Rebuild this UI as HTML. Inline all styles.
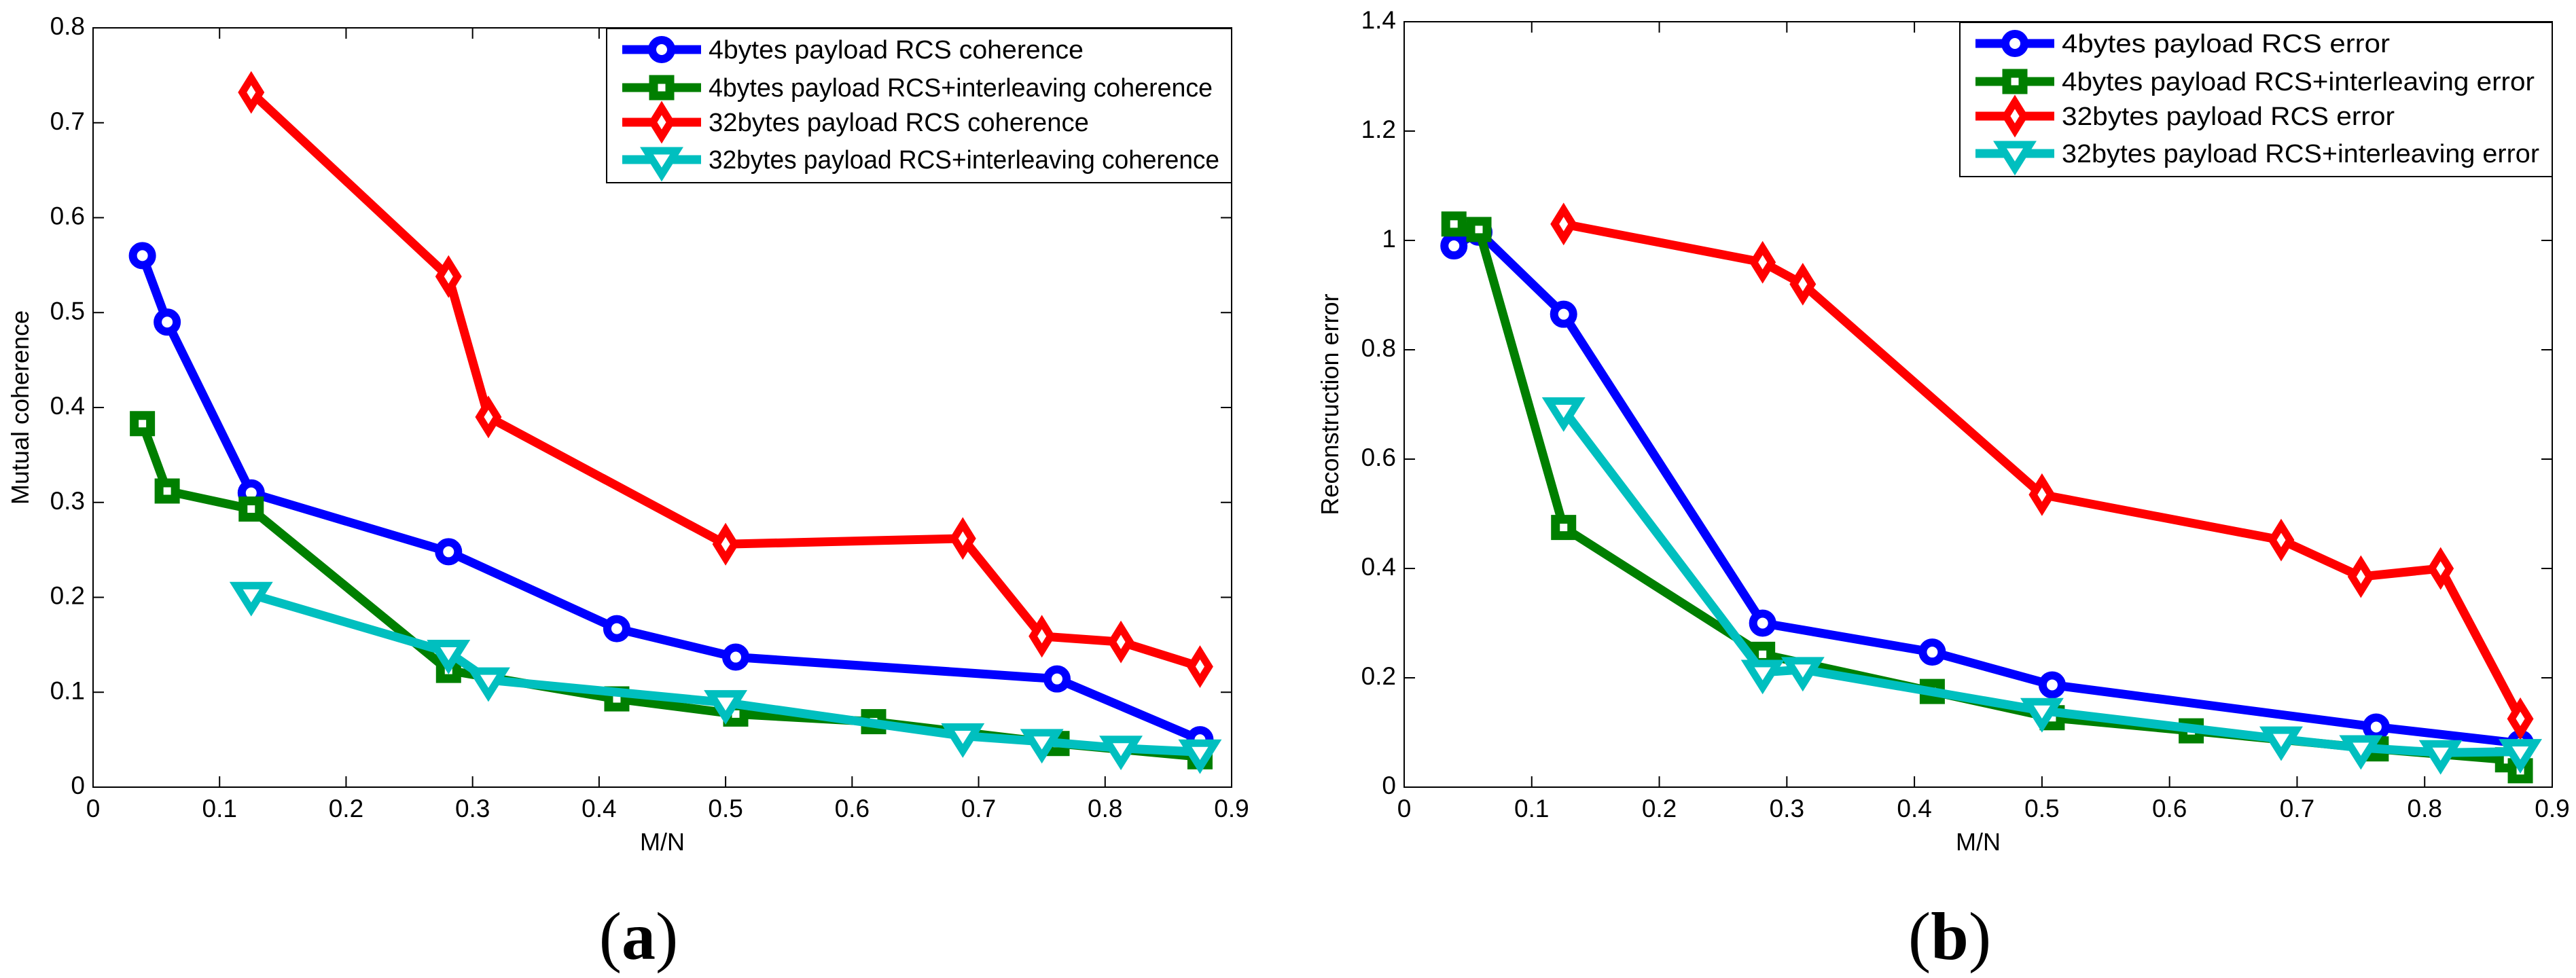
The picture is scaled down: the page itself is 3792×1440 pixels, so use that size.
<!DOCTYPE html>
<html><head><meta charset="utf-8"><style>
html,body{margin:0;padding:0;background:#fff;}
svg{display:block;}
text{font-family:"Liberation Sans",Arial,sans-serif;}
</style></head><body>
<svg id="fig" width="3792" height="1440" xmlns="http://www.w3.org/2000/svg"></svg>
<script>
// ---- Chart (a) data ----
const aBlueX = [0.039, 0.0586, 0.125, 0.281, 0.414, 0.508, 0.762, 0.875];
const aBlueY = [0.56, 0.49, 0.31, 0.248, 0.167, 0.137, 0.114, 0.05];
const aGreenX = [0.039, 0.0586, 0.125, 0.281, 0.414, 0.508, 0.617, 0.762, 0.875];
const aGreenY = [0.383, 0.312, 0.293, 0.123, 0.093, 0.077, 0.069, 0.046, 0.032];
const aRedX = [0.125, 0.281, 0.3125, 0.5, 0.6875, 0.75, 0.8125, 0.875];
const aRedY = [0.732, 0.538, 0.39, 0.256, 0.262, 0.159, 0.153, 0.127];
const aCyanX = [0.125, 0.281, 0.3125, 0.5, 0.6875, 0.75, 0.8125, 0.875];
const aCyanY = [0.203, 0.142, 0.113, 0.089, 0.054, 0.048, 0.041, 0.037];
const aYTicks = [0, 0.1, 0.2, 0.3, 0.4, 0.5, 0.6, 0.7, 0.8];
const aYTickLabels = ["0","0.1","0.2","0.3","0.4","0.5","0.6","0.7","0.8"];
const aLegend = ["4bytes payload RCS coherence","4bytes payload RCS+interleaving coherence","32bytes payload RCS coherence","32bytes payload RCS+interleaving coherence"];
// ---- Chart (b) data ----
const bBlueX = [0.039, 0.0586, 0.125, 0.281, 0.414, 0.508, 0.762, 0.875];
const bBlueY = [0.99, 1.015, 0.865, 0.30, 0.247, 0.187, 0.11, 0.08];
const bGreenX = [0.039, 0.0586, 0.125, 0.281, 0.414, 0.508, 0.617, 0.762, 0.865, 0.875];
const bGreenY = [1.03, 1.02, 0.475, 0.243, 0.175, 0.127, 0.103, 0.07, 0.05, 0.03];
const bRedX = [0.125, 0.281, 0.3125, 0.5, 0.6875, 0.75, 0.8125, 0.875];
const bRedY = [1.03, 0.96, 0.92, 0.535, 0.452, 0.385, 0.40, 0.125];
const bCyanX = [0.125, 0.281, 0.3125, 0.5, 0.6875, 0.75, 0.8125, 0.875];
const bCyanY = [0.69, 0.21, 0.215, 0.14, 0.088, 0.072, 0.063, 0.065];
const bYTicks = [0, 0.2, 0.4, 0.6, 0.8, 1.0, 1.2, 1.4];
const bYTickLabels = ["0","0.2","0.4","0.6","0.8","1","1.2","1.4"];
const bLegend = ["4bytes payload RCS error","4bytes payload RCS+interleaving error","32bytes payload RCS error","32bytes payload RCS+interleaving error"];
// shared
const xTicks = [0, 0.1, 0.2, 0.3, 0.4, 0.5, 0.6, 0.7, 0.8, 0.9];
const xTickLabels = ["0","0.1","0.2","0.3","0.4","0.5","0.6","0.7","0.8","0.9"];

const NS = "http://www.w3.org/2000/svg";
const svg = document.getElementById('fig');
function mk(tag, attrs, parent){
  const e = document.createElementNS(NS, tag);
  for (const k in attrs) e.setAttribute(k, attrs[k]);
  (parent||svg).appendChild(e);
  return e;
}
const COLORS = ["#0000ff","#007f00","#ff0000","#00bfbf"];
const SHAPES = ["circle","square","diamond","triangle"];

function marker(g, shape, cx, cy, color){
  let m;
  if (shape === "circle") {
    m = mk('circle', {cx:cx, cy:cy, r:14, fill:'#fff', stroke:color, 'stroke-width':12}, g);
  } else if (shape === "square") {
    m = mk('rect', {x:cx-12, y:cy-12, width:24, height:24, fill:'#fff', stroke:color, 'stroke-width':13}, g);
  } else if (shape === "diamond") {
    m = mk('polygon', {points:`${cx},${cy-21} ${cx+13},${cy} ${cx},${cy+21} ${cx-13},${cy}`, fill:'#fff', stroke:color, 'stroke-width':11, 'stroke-linejoin':'miter'}, g);
  } else {
    m = mk('polygon', {points:`${cx-22},${cy-13} ${cx+22},${cy-13} ${cx},${cy+22}`, fill:'#fff', stroke:color, 'stroke-width':11, 'stroke-linejoin':'miter'}, g);
  }
  return m;
}

function chart(cfg){
  const g = mk('g', {});
  
  
  const L = cfg.left, R = cfg.right, T = cfg.top, B = cfg.bottom;
  const sx = v => L + (v - 0) / 0.9 * (R - L);
  const sy = v => B - v / cfg.ymax * (B - T);
  const box = mk('rect', {x:L, y:T, width:R-L, height:B-T, fill:'none', stroke:'#000', 'stroke-width':2}, g);
  
  
  xTicks.forEach((t, i) => {
    const x = sx(t);
    mk('line', {x1:x, y1:B, x2:x, y2:B-16, stroke:'#000', 'stroke-width':2}, g);
    mk('line', {x1:x, y1:T, x2:x, y2:T+16, stroke:'#000', 'stroke-width':2}, g);
    const tx = mk('text', {x:x, y:B+44, 'font-size':37, 'text-anchor':'middle', fill:'#000'}, g);
    tx.textContent = xTickLabels[i];
    
    
  });
  cfg.yTicks.forEach((t, i) => {
    const y = sy(t);
    mk('line', {x1:L, y1:y, x2:L+16, y2:y, stroke:'#000', 'stroke-width':2}, g);
    mk('line', {x1:R, y1:y, x2:R-16, y2:y, stroke:'#000', 'stroke-width':2}, g);
    const ty = mk('text', {x:L-12, y:y+10, 'font-size':37, 'text-anchor':'end', fill:'#000'}, g);
    ty.textContent = cfg.yLabels[i];
    
    
  });
  const xt = mk('text', {x:(L+R)/2, y:1252, 'font-size':36, 'text-anchor':'middle', fill:'#000'}, g);
  xt.textContent = 'M/N';
  
  
  const yt = mk('text', {x:0, y:0, 'font-size':36, 'text-anchor':'middle', fill:'#000', transform:`translate(${cfg.yTitleX},${(T+B)/2}) rotate(-90)`}, g);
  yt.textContent = cfg.yTitle;
  
  
  cfg.series.forEach((s, k) => {
    const sg = mk('g', {}, g);
    
    
    const pts = s.x.map((xv, i) => sx(xv) + ',' + sy(s.y[i])).join(' ');
    const pl = mk('polyline', {points:pts, fill:'none', stroke:COLORS[k], 'stroke-width':13, 'stroke-linejoin':'miter'}, sg);
    
    
    s.x.forEach((xv, i) => {
      const m = marker(sg, SHAPES[k], sx(xv), sy(s.y[i]), COLORS[k]);
      
      
    });
  });
  const lg = mk('g', {}, g);
  
  
  mk('rect', {x:cfg.legX, y:T+1, width:R-cfg.legX, height:227, fill:'#fff', stroke:'#000', 'stroke-width':2}, lg);
  const rows = [31, 87, 138, 193];
  cfg.legend.forEach((txt, k) => {
    const y = T + 1 + rows[k];
    const eg = mk('g', {}, lg);
    
    
    mk('line', {x1:cfg.legX+23, y1:y, x2:cfg.legX+139, y2:y, stroke:COLORS[k], 'stroke-width':13}, eg);
    marker(eg, SHAPES[k], cfg.legX+81, y, COLORS[k]);
    const t = mk('text', {x:cfg.legX+150, y:y+13, 'font-size':38, fill:'#000', textLength:cfg.legW[k], lengthAdjust:'spacingAndGlyphs'}, eg);
    t.textContent = txt;
  });
  const cap = mk('text', {x:cfg.capX, y:1412, 'font-size':100, 'text-anchor':'middle', fill:'#000', style:'font-family:"Liberation Serif",serif'}, g);
  cap.innerHTML = '(<tspan font-weight="bold">' + cfg.cap + '</tspan>)';
  
  
}

chart({name:'chart-a-mutual-coherence', left:137, right:1813, top:41, bottom:1159, ymax:0.8,
  yTicks:aYTicks, yLabels:aYTickLabels, yTitle:'Mutual coherence', yTitleX:42,
  legend:aLegend, legX:893, legW:[552,742,560,752], cap:'a', capX:940,
  series:[{x:aBlueX,y:aBlueY},{x:aGreenX,y:aGreenY},{x:aRedX,y:aRedY},{x:aCyanX,y:aCyanY}]});
chart({name:'chart-b-reconstruction-error', left:2067, right:3757, top:32, bottom:1159, ymax:1.4,
  yTicks:bYTicks, yLabels:bYTickLabels, yTitle:'Reconstruction error', yTitleX:1970,
  legend:bLegend, legX:2885, legW:[483,696,490,703], cap:'b', capX:2870,
  series:[{x:bBlueX,y:bBlueY},{x:bGreenX,y:bGreenY},{x:bRedX,y:bRedY},{x:bCyanX,y:bCyanY}]});
</script>
</body></html>
